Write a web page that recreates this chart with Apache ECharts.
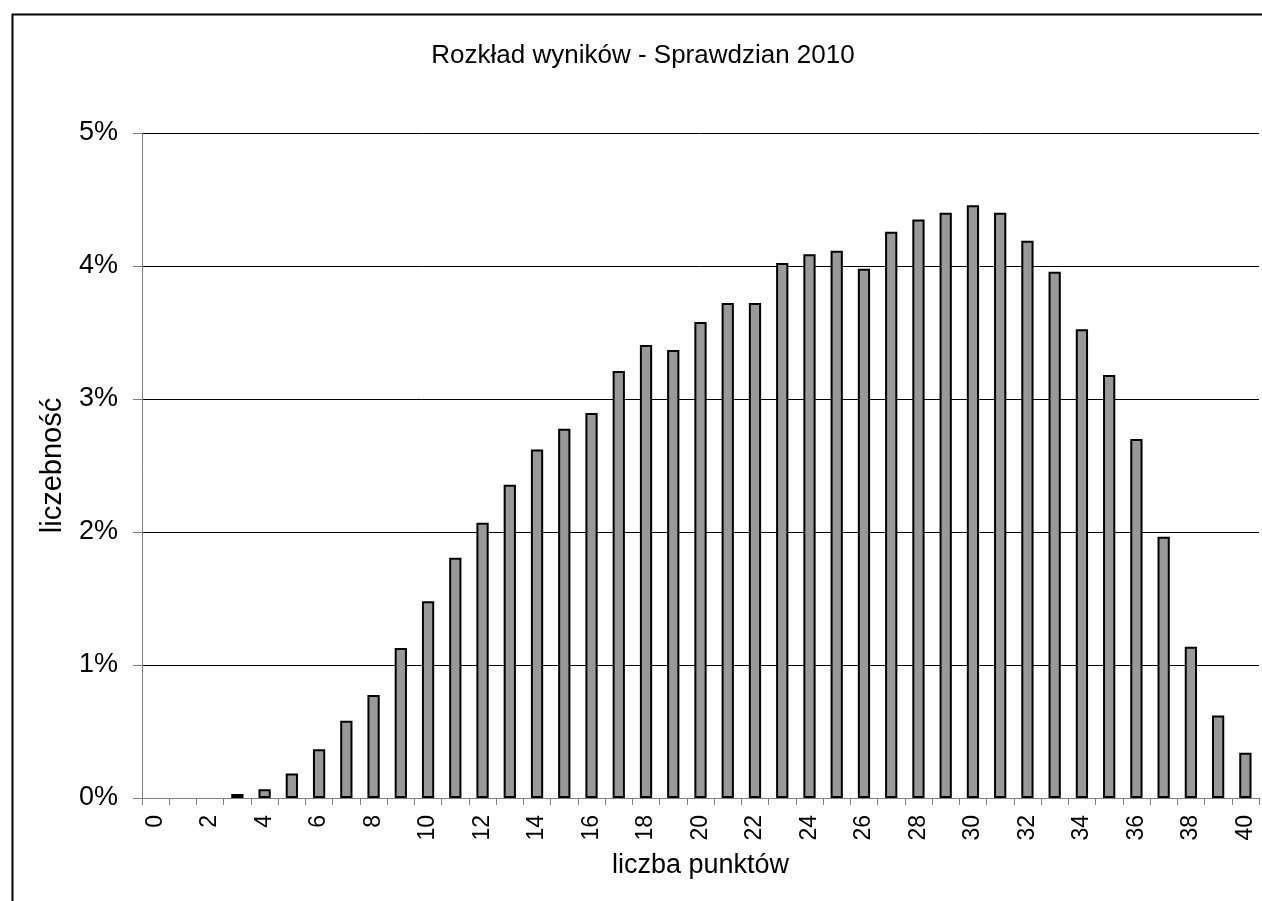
<!DOCTYPE html>
<html>
<head>
<meta charset="utf-8">
<script src="https://cdn.jsdelivr.net/npm/echarts@6/dist/echarts.min.js"></script>
<style>
html,body{margin:0;padding:0;background:#fff;}
#main{width:1262px;height:901px;}
</style>
</head>
<body>
<div id="main"></div>
<script>
const categories = ['0','1','2','3','4','5','6','7','8','9','10','11','12','13','14','15','16','17','18','19','20','21','22','23','24','25','26','27','28','29','30','31','32','33','34','35','36','37','38','39','40'];
const values = [0,0,0,0.03,0.065,0.185,0.366,0.58,0.775,1.128,1.48,1.807,2.07,2.356,2.62,2.777,2.895,3.21,3.406,3.368,3.579,3.722,3.722,4.023,4.088,4.115,3.98,4.258,4.35,4.40,4.456,4.40,4.19,3.957,3.524,3.18,2.70,1.965,1.138,0.62,0.34];
const titleText = 'Rozkład wyników - Sprawdzian 2010';
const xName = 'liczba punktów';
const yName = 'liczebność';

const FONT = 'Liberation Sans, Arial, sans-serif';
const chart = echarts.init(document.getElementById('main'), null, {renderer: 'canvas'});
chart.setOption({
  backgroundColor: '#fff',
  animation: false,
  graphic: [{
    type: 'rect', left: 10, top: 12, z: -1,
    shape: {width: 1400, height: 1000},
    style: {fill: 'none', stroke: '#000', lineWidth: 2}
  }],
  title: {
    text: titleText,
    left: 638, top: 38, textAlign: 'center',
    textStyle: {fontFamily: FONT, fontSize: 26, fontWeight: 'normal', color: '#000'}
  },
  grid: {left: 142, right: 3, top: 133, bottom: 103, containLabel: false},
  xAxis: {
    type: 'category',
    data: categories,
    name: xName,
    nameLocation: 'middle',
    nameGap: 54,
    nameTextStyle: {fontFamily: FONT, fontSize: 27, color: '#000'},
    axisLine: {lineStyle: {color: '#808080', width: 1}},
    axisTick: {show: true, interval: 0, length: 7, alignWithLabel: false, lineStyle: {color: '#808080'}},
    axisLabel: {interval: 1, rotate: 90, margin: 17, fontFamily: FONT, fontSize: 23, color: '#000'},
    splitLine: {show: false}
  },
  yAxis: {
    type: 'value',
    min: 0, max: 5, interval: 1,
    name: yName,
    nameLocation: 'middle',
    nameGap: 75,
    nameTextStyle: {fontFamily: FONT, fontSize: 29, color: '#000'},
    axisLine: {show: true, lineStyle: {color: '#808080', width: 1}},
    axisTick: {show: true, length: 9, lineStyle: {color: '#808080'}},
    axisLabel: {formatter: '{value}%', margin: 24, fontFamily: FONT, fontSize: 27, color: '#000'},
    splitLine: {show: true, lineStyle: {color: '#000', width: 1}}
  },
  series: [{
    type: 'bar',
    data: values.map(v => v === 0 ? '-' : v),
    barWidth: '45%',
    itemStyle: {color: '#999999', borderColor: '#000', borderWidth: 2}
  }]
});
</script>
</body>
</html>
